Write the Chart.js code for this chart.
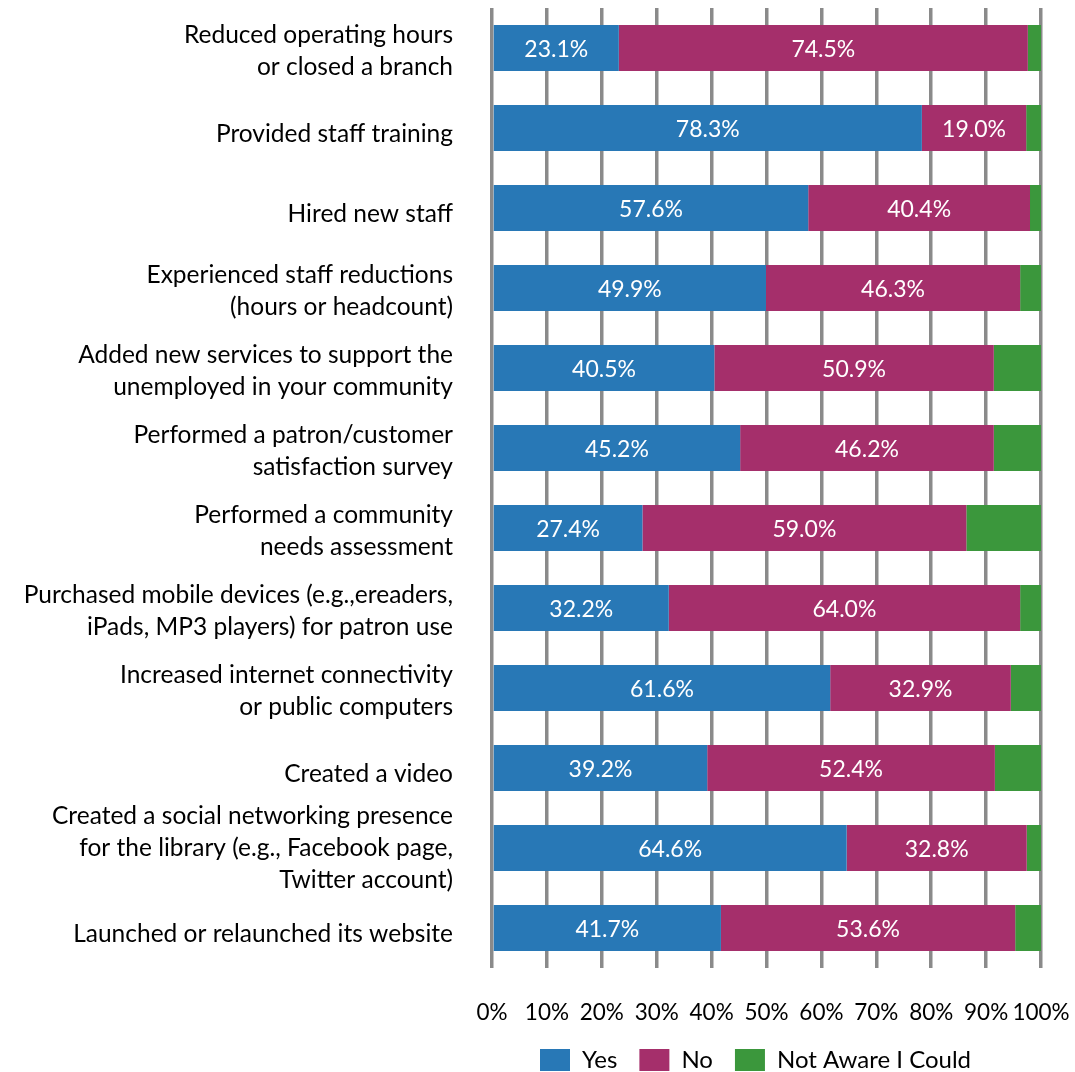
<!DOCTYPE html>
<html>
<head>
<meta charset="utf-8">
<script src="https://cdn.jsdelivr.net/npm/chart.js@4.4.1/dist/chart.umd.min.js"></script>
<style>
  html, body { margin: 0; padding: 0; background: #fff; }
  #wrap { width: 1075px; height: 1072px; position: relative; }
</style>
</head>
<body>
<div id="wrap"><canvas id="chart"></canvas></div>
<script>
const categories = [
  ['Reduced operating hours', 'or closed a branch'],
  'Provided staff training',
  'Hired new staff',
  ['Experienced staff reductions', '(hours or headcount)'],
  ['Added new services to support the', 'unemployed in your community'],
  ['Performed a patron/customer', 'satisfaction survey'],
  ['Performed a community', 'needs assessment'],
  ['Purchased mobile devices (e.g.,ereaders,', 'iPads, MP3 players) for patron use'],
  ['Increased internet connectivity', 'or public computers'],
  'Created a video',
  ['Created a social networking presence', 'for the library (e.g., Facebook page,', 'Twitter account)'],
  'Launched or relaunched its website'
];
const yesValues = [23.1, 78.3, 57.6, 49.9, 40.5, 45.2, 27.4, 32.2, 61.6, 39.2, 64.6, 41.7];
const noValues = [74.5, 19.0, 40.4, 46.3, 50.9, 46.2, 59.0, 64.0, 32.9, 52.4, 32.8, 53.6];
const notAwareValues = [2.4, 2.7, 2.0, 3.8, 8.6, 8.6, 13.6, 3.8, 5.5, 8.4, 2.6, 4.7];
const seriesNames = ['Yes', 'No', 'Not Aware I Could'];
const seriesColors = ['#2878b6', '#a52f6b', '#3b973c'];

const FONT = 'Lato, "Open Sans", sans-serif';

const segmentLabels = {
  id: 'segmentLabels',
  afterLayout(chart) {
    // legend row sits under the plot area rather than the whole canvas
    const lg = chart.legend;
    lg.top += 10;
    lg.bottom += 10;
    lg.left += 235;
    lg.right += 235;
  },
  // white percentage labels centred in the Yes and No segments
  afterDatasetsDraw(chart) {
    const ctx = chart.ctx;
    ctx.save();
    ctx.fillStyle = '#ffffff';
    ctx.font = '23px ' + FONT;
    ctx.textAlign = 'center';
    ctx.textBaseline = 'middle';
    [0, 1].forEach(di => {
      const meta = chart.getDatasetMeta(di);
      meta.data.forEach((bar, i) => {
        const v = chart.data.datasets[di].data[i];
        const cx = (bar.x + bar.base) / 2;
        ctx.fillText(v.toFixed(1) + '%', cx, bar.y + 2);
      });
    });
    ctx.restore();
  }
};

// shorter category labels sit a little below the bar centre
function lowerShortLabels(scale) {
  if (scale._lowered) return;
  scale._lowered = true;
  const compute = scale._computeLabelItems;
  scale._computeLabelItems = function(area) {
    const items = compute.call(this, area);
    items.forEach((item, i) => {
      const lbl = this.ticks[i].label;
      const lines = Array.isArray(lbl) ? lbl.length : 1;
      item.options.translation[1] += (3 - lines) * 3;
    });
    return items;
  };
}

const datasets = [yesValues, noValues, notAwareValues].map((vals, i) => ({
  label: seriesNames[i],
  data: vals,
  backgroundColor: seriesColors[i],
  borderWidth: 0,
  barPercentage: 0.575,
  categoryPercentage: 1
}));

new Chart(document.getElementById('chart'), {
  type: 'bar',
  data: { labels: categories, datasets },
  options: {
    indexAxis: 'y',
    responsive: true,
    maintainAspectRatio: false,
    animation: false,
    layout: { padding: { top: 8, right: 34, bottom: 0, left: 0 } },
    scales: {
      x: {
        stacked: true,
        min: 0,
        max: 100,
        afterFit: scale => {
          scale.height = 48;
          scale.paddingLeft = 0;
          scale.paddingRight = 0;
          scale._computeLabelArea = () => null; // let the labels overhang the short axis box
        },
        ticks: {
          stepSize: 10,
          padding: 31,
          autoSkip: false,
          maxRotation: 0,
          minRotation: 0,
          color: '#000',
          font: { family: FONT, size: 22.5 },
          callback: v => v + '%'
        },
        grid: { color: '#8a8a8a', lineWidth: 3.5, drawTicks: false },
        border: { display: false }
      },
      y: {
        stacked: true,
        afterFit: scale => {
          scale.width = 492;
          scale.paddingTop = 0;
          scale.paddingBottom = 0;
          lowerShortLabels(scale);
        },
        ticks: {
          padding: 31,
          autoSkip: false,
          color: '#000',
          font: { family: FONT, size: 24.5, lineHeight: 1.3 }
        },
        grid: { display: false },
        border: { display: false }
      }
    },
    plugins: {
      legend: {
        position: 'bottom',
        labels: {
          color: '#000',
          font: { family: FONT, size: 24 },
          boxWidth: 30,
          boxHeight: 22,
          padding: 22
        }
      },
      tooltip: { enabled: false }
    }
  },
  plugins: [segmentLabels]
});
</script>
</body>
</html>
